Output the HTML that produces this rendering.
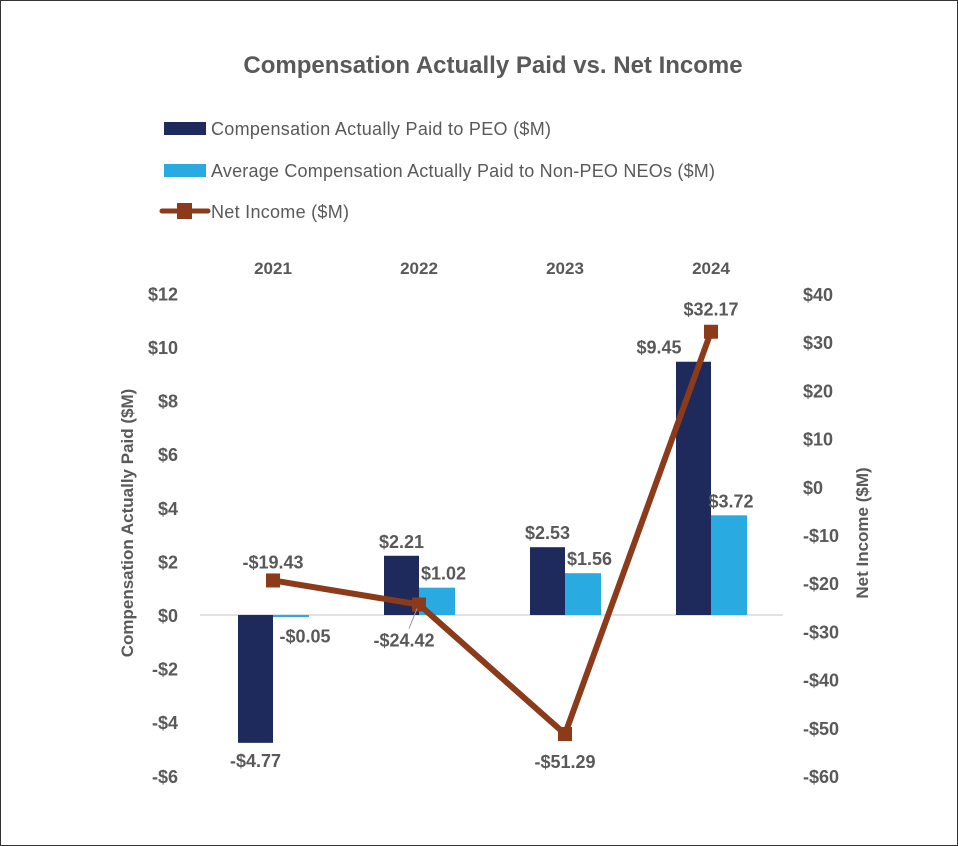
<!DOCTYPE html>
<html><head><meta charset="utf-8"><style>
body{margin:0;background:#fff;}
svg{display:block;font-family:"Liberation Sans",sans-serif;}
</style></head><body>
<svg width="958" height="846">
<rect x="0.5" y="0.5" width="957" height="845" fill="#fff" stroke="#333"/>
<text x="493" y="73" text-anchor="middle" font-size="24" font-weight="bold" fill="#595959">Compensation Actually Paid vs. Net Income</text>
<g>
<rect x="164" y="122" width="42" height="13" fill="#1f2a5c"/>
<text x="211" y="135" font-size="18" fill="#595959" textLength="340">Compensation Actually Paid to PEO ($M)</text>
<rect x="164" y="164" width="42" height="13" fill="#29abe2"/>
<text x="211" y="177" font-size="18" fill="#595959" textLength="504">Average Compensation Actually Paid to Non-PEO NEOs ($M)</text>
<line x1="162" y1="211" x2="208" y2="211" stroke="#8b3a1a" stroke-width="5" stroke-linecap="round"/>
<rect x="177" y="203" width="15" height="16" fill="#8b3a1a"/>
<text x="211" y="218" font-size="18" fill="#595959" textLength="138">Net Income ($M)</text>
</g>
<g id="plot"></g>
<text transform="translate(133,523) rotate(-90)" text-anchor="middle" font-size="17" font-weight="bold" fill="#595959">Compensation Actually Paid ($M)</text>
<text transform="translate(868,533) rotate(-90)" text-anchor="middle" font-size="17" font-weight="bold" fill="#595959">Net Income ($M)</text>
</svg>
<script>
const categories=["2021","2022","2023","2024"];
const peoValues=[-4.77,2.21,2.53,9.45];
const neoValues=[-0.05,1.02,1.56,3.72];
const netIncome=[-19.43,-24.42,-51.29,32.17];
const leftTicks=[12,10,8,6,4,2,0,-2,-4,-6];
const rightTicks=[40,30,20,10,0,-10,-20,-30,-40,-50,-60];
const ns="http://www.w3.org/2000/svg";
const g=document.getElementById('plot');
function yL(v){return 615-v*26.8;}
function yR(v){return 294+(40-v)*(482/100);}
function xC(i){return 273+i*146;}
function mk(t,a,txt){const e=document.createElementNS(ns,t);for(const k in a)e.setAttribute(k,a[k]);if(txt!==undefined)e.textContent=txt;g.appendChild(e);return e;}
function fmt(v){return (v<0?'-$':'$')+Math.abs(v).toFixed(2);}
let e;
e=mk('line',{x1:200,x2:783,y1:yL(0),y2:yL(0),stroke:'#d9d9d9','stroke-width':1.5});


leftTicks.forEach(v=>{
 e=mk('text',{x:178,y:yL(v)+7,'text-anchor':'end','font-size':18,'font-weight':'bold',fill:'#595959'},(v<0?'-$':'$')+Math.abs(v));
 
 
});
rightTicks.forEach(v=>{
 e=mk('text',{x:803,y:yR(v)+7,'text-anchor':'start','font-size':18,'font-weight':'bold',fill:'#595959'},(v<0?'-$':'$')+Math.abs(v));
 
 
});
const bw=35;
categories.forEach((c,i)=>{
 const x=xC(i);
 e=mk('text',{x:x,y:274,'text-anchor':'middle','font-size':17,'font-weight':'bold',fill:'#595959'},c);
 
 
 const p=peoValues[i],n=neoValues[i];
 e=mk('rect',{x:x-bw,y:Math.min(yL(p),yL(0)),width:bw,height:Math.abs(yL(p)-yL(0)),fill:'#1f2a5c'});
 
 
 e=mk('rect',{x:x,y:Math.min(yL(n),yL(0)),width:bw+1,height:Math.max(2,Math.abs(yL(n)-yL(0))),fill:'#29abe2'});
 
 
 let px=x-bw/2; if(i===3)px=x-52;
 e=mk('text',{x:px,y:p<0?yL(p)+24:yL(p)-8,'text-anchor':'middle','font-size':18,'font-weight':'bold',fill:'#595959'},fmt(p));
 
 
 let nx=x+bw/2+7; if(n<0)nx=x+32; if(i===3)nx=x+20;
 e=mk('text',{x:nx,y:n<0?yL(n)+26:yL(n)-8,'text-anchor':'middle','font-size':18,'font-weight':'bold',fill:'#595959'},fmt(n));
 
 
});
const pts=netIncome.map((v,i)=>xC(i)+','+yR(v)).join(' ');
e=mk('polyline',{points:pts,fill:'none',stroke:'#8b3a1a','stroke-width':6,'stroke-linejoin':'round'});


netIncome.forEach((v,i)=>{
 const x=xC(i),y=yR(v);
 e=mk('rect',{x:x-7,y:y-7,width:14,height:14,fill:'#8b3a1a'});
 
 
 let lx=x,ly=y-12;
 if(i===1){lx=x-15;ly=y+42;
  e=mk('line',{x1:x-2,y1:y+4,x2:x-10,y2:y+24,stroke:'#999','stroke-width':1});
  
  }
 if(i===2){ly=y+34;}
 if(i===3){ly=y-16;}
 e=mk('text',{x:lx,y:ly,'text-anchor':'middle','font-size':18,'font-weight':'bold',fill:'#595959'},fmt(v));
 
 
});
</script>
</body></html>
